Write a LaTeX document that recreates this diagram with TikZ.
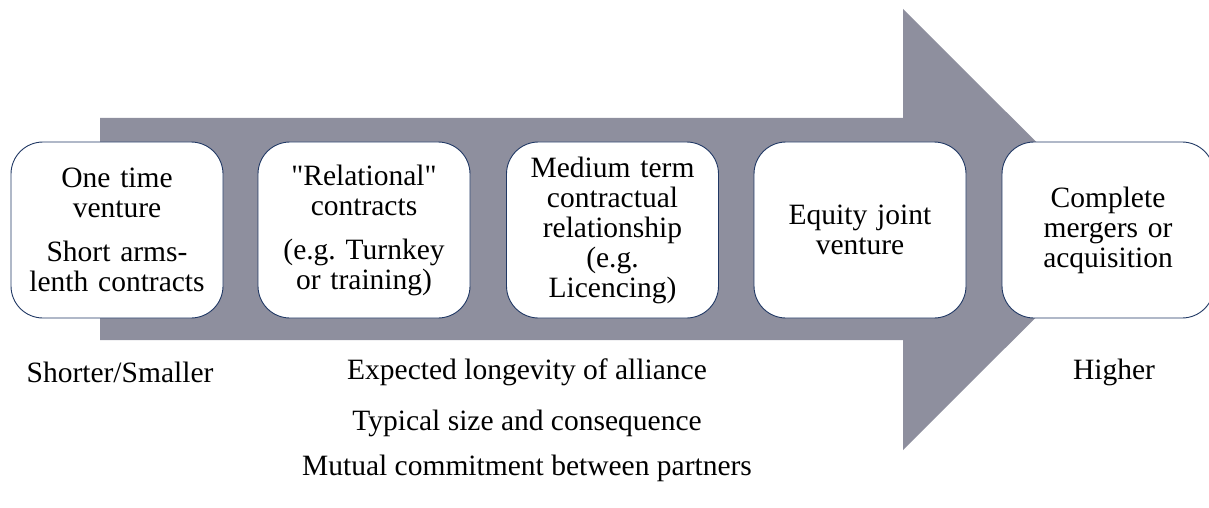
\documentclass[tikz,border=0pt]{standalone}
\usepackage{fontspec}
\setmainfont{Liberation Serif}[Ligatures=TeXOff]
\definecolor{arrowgray}{RGB}{142,143,158}
\definecolor{boxline}{RGB}{32,56,100}
\tikzset{
  stagebox/.style={draw=boxline, line width=0.9pt, fill=white, rounded corners=32pt,
    minimum width=212pt, minimum height=176pt, align=center, inner sep=0pt,
    text width=208pt, font=\fontsize{29.5}{30}\selectfont\frenchspacing},
  lbl/.style={font=\fontsize{29.5}{30}\selectfont, inner sep=0pt, anchor=center}
}
\begin{document}
\begin{tikzpicture}[x=1pt,y=1pt]
\useasboundingbox (0,0) rectangle (1209,507);
\begin{scope}
\clip (0,0) rectangle (1209,507);
\fill[arrowgray] (100,389) -- (903,389) -- (903,498) -- (1124,277.5) -- (903,57) -- (903,167) -- (100,167) -- cycle;
\node[stagebox] (b1) at (117,277) {One time\\venture\\[14pt]Short arms-\\lenth contracts};
\node[stagebox] (b2) at (364,277) {"Relational"\\contracts\\[14pt](e.g. Turnkey\\or training)};
\node[stagebox] (b3) at (612.5,277) {Medium term\\contractual\\relationship\\(e.g.\\Licencing)};
\node[stagebox] (b4) at (860,277) {Equity joint\\venture};
\node[stagebox] (b5) at (1108,277) {Complete\\mergers or\\acquisition};
\end{scope}
\node[lbl] (short) at (120,135) {Shorter/Smaller};
\node[lbl] (high) at (1114,135) {Higher};
\node[lbl] (exp) at (527,135) {Expected longevity of alliance};
\node[lbl] (typ) at (527,84) {Typical size and consequence};
\node[lbl] (mut) at (527,39) {Mutual commitment between partners};
\end{tikzpicture}
\end{document}
